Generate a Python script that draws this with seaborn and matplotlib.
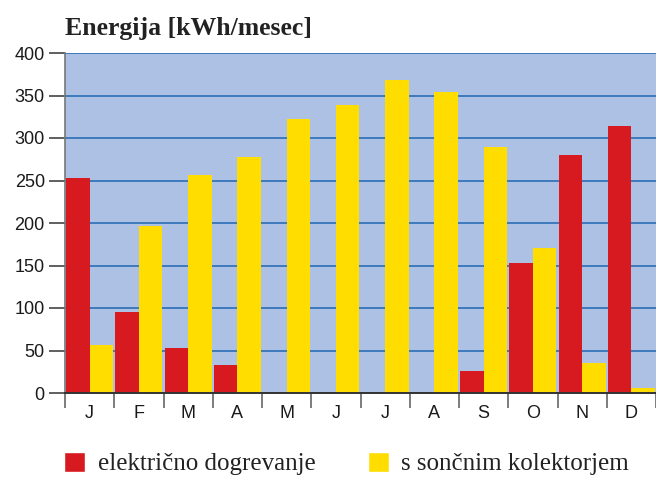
import pandas as pd
import seaborn as sns
import matplotlib.pyplot as plt
from matplotlib.patches import Patch

# monthly energy values
months = ["J", "F", "M", "A", "M", "J", "J", "A", "S", "O", "N", "D"]
electric = [253, 95, 53, 33, 0, 0, 0, 0, 26, 153, 280, 314]
solar = [56, 197, 256, 278, 322, 339, 368, 354, 289, 171, 35, 6]
series_names = ["električno dogrevanje", "s sončnim kolektorjem"]

RED = "#d71920"
YELLOW = "#ffdd00"
BG = "#adc1e5"
GRID = "#2a6db5"

idx = list(range(len(months)))
df = pd.DataFrame({
    "month": idx * 2,
    "value": electric + solar,
    "series": [series_names[0]] * 12 + [series_names[1]] * 12,
})

sns.set_style("white")
plt.rcParams["font.family"] = ["Liberation Sans", "DejaVu Sans"]

fig = plt.figure(figsize=(6.56, 4.78), dpi=100)
ax = fig.add_axes([65 / 656, 85 / 478, 1 - 65 / 656, 340 / 478])
ax.set_facecolor(BG)

sns.barplot(data=df, x="month", y="value", hue="series",
            palette=[RED, YELLOW], width=0.95, saturation=1,
            dodge=True, ax=ax, legend=False, linewidth=0)

ax.set_xlim(-0.5, 11.5)
ax.set_ylim(0, 400)
ax.set_yticks(range(0, 401, 50))
ax.yaxis.grid(True, color=GRID, linewidth=1.2)
ax.set_axisbelow(True)
ax.tick_params(axis="y", length=11.5, width=1.2, color="#444444",
               labelsize=13, pad=3, left=True)
for lab in ax.get_yticklabels():
    lab.set_color("#1a1a1a")

ax.set_xticks(idx)
ax.set_xticklabels(months)
ax.set_xticks([i - 0.5 for i in range(13)], minor=True)
ax.tick_params(axis="x", which="major", length=0, labelsize=13, pad=9)
ax.tick_params(axis="x", which="minor", length=10.5, width=1.2,
               color="#666666", bottom=True)
for lab in ax.get_xticklabels():
    lab.set_color("#1a1a1a")

ax.set_xlabel("")
ax.set_ylabel("")
for s in ["top", "right"]:
    ax.spines[s].set_visible(False)
ax.spines["left"].set_color("#777777")
ax.spines["left"].set_linewidth(1.2)
ax.spines["bottom"].set_color("#333333")
ax.spines["bottom"].set_linewidth(1.4)

fig.text(65 / 656, 1 - 28 / 478, "Energija [kWh/mesec]",
         family="Liberation Serif", fontweight="bold", fontsize=18.5,
         color="#222222", va="center", ha="left")

handles = [Patch(facecolor=RED), Patch(facecolor=YELLOW)]
leg = fig.legend(handles, series_names, loc="center left",
                 bbox_to_anchor=(64 / 656, 1 - 463.5 / 478), ncol=2,
                 frameon=False, prop={"family": "Liberation Serif", "size": 18},
                 handlelength=0.84, handleheight=0.84, handletextpad=0.5,
                 columnspacing=2.1, borderpad=0, borderaxespad=0)
for t in leg.get_texts():
    t.set_color("#222222")

fig.savefig("out.png", dpi=100)
